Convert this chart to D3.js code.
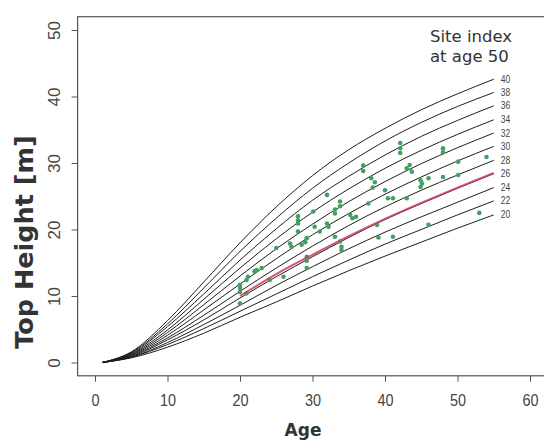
<!DOCTYPE html>
<html>
<head>
<meta charset="utf-8">
<script src="https://cdn.jsdelivr.net/npm/d3@7"></script>
<style>
  body { margin: 0; background: #fff; }
  svg { display: block; }
</style>
</head>
<body>
<script>
const width = 544;
const height = 442;

// site index curves at these ages
const curveAges = [1, 5, 10, 15, 20, 25, 30, 35, 40, 45, 50, 55];
const siteIndex = [20, 22, 24, 26, 28, 30, 32, 34, 36, 38, 40];
const curveHeights = [
    [0, 0.7, 2.3, 4.4, 6.8, 9.1, 11.5, 13.8, 16.0, 18.1, 20.2, 22.2],
    [0, 0.8, 2.7, 5.1, 7.7, 10.3, 12.9, 15.4, 17.8, 20.0, 22.2, 24.3],
    [0, 0.8, 3.0, 5.7, 8.6, 11.6, 14.4, 17.1, 19.6, 21.9, 24.1, 26.3],
    [0, 0.9, 3.4, 6.4, 9.7, 12.9, 15.9, 18.8, 21.5, 23.9, 26.2, 28.4],
    [0, 1.0, 3.7, 7.1, 10.7, 14.2, 17.5, 20.6, 23.4, 25.9, 28.2, 30.4],
    [0, 1.1, 4.1, 7.9, 11.8, 15.6, 19.2, 22.4, 25.3, 27.9, 30.3, 32.5],
    [0, 1.2, 4.5, 8.7, 13.0, 17.1, 20.8, 24.2, 27.2, 29.9, 32.3, 34.5],
    [0, 1.3, 4.9, 9.5, 14.2, 18.6, 22.6, 26.1, 29.2, 31.9, 34.3, 36.5],
    [0, 1.4, 5.4, 10.3, 15.4, 20.1, 24.4, 28.0, 31.2, 34.0, 36.4, 38.6],
    [0, 1.5, 5.8, 11.2, 16.7, 21.7, 26.2, 30.0, 33.3, 36.1, 38.5, 40.6],
    [0, 1.6, 6.3, 12.1, 18.0, 23.4, 28.1, 32.0, 35.2, 38.0, 40.4, 42.6]
];

// measured plots
const plotAge = [
    20.0, 20.0, 20.0, 20.0, 20.9, 20.9, 21.1, 22.0, 22.3, 23.0,
    24.1, 25.0, 26.0, 26.9, 27.1, 28.0, 28.0, 28.0, 28.0, 28.5,
    29.0, 29.2, 29.2, 29.2, 29.2, 30.1, 30.3, 31.0, 32.0, 32.0,
    32.2, 33.1, 33.1, 33.8, 33.8, 33.1, 33.8, 34.0, 34.0, 35.2,
    35.5, 36.0, 37.0, 37.0, 38.1, 38.6, 38.3, 37.7, 38.9, 39.1,
    41.1, 40.0, 40.4, 41.1, 42.1, 42.1, 42.1, 43.0, 43.0, 43.4,
    43.7, 44.9, 45.1, 44.9, 46.0, 46.0, 48.0, 48.0, 48.0, 50.1,
    50.1, 53.0, 54.0
];
const plotHeight = [
    11.7, 11.2, 10.6, 8.9, 12.4, 10.4, 12.9, 13.7, 13.9, 14.2,
    12.4, 17.2, 12.9, 17.9, 17.4, 22.0, 21.4, 20.9, 19.7, 17.7,
    18.1, 18.7, 15.9, 15.3, 14.2, 22.7, 20.4, 19.7, 25.2, 20.9,
    20.4, 23.0, 22.4, 24.2, 23.5, 18.9, 18.2, 17.4, 16.9, 22.2,
    21.7, 21.9, 29.6, 28.8, 27.7, 27.1, 26.3, 23.9, 20.7, 18.8,
    18.9, 25.9, 24.7, 24.7, 33.0, 32.2, 31.5, 24.7, 29.2, 29.7,
    28.7, 27.4, 26.9, 26.4, 27.7, 20.7, 32.2, 31.6, 27.9, 30.2,
    28.2, 22.5, 30.9
];

// fitted mean curve (red)
const fitAge = [20, 25, 30, 35, 40, 45, 50, 55];
const fitHeight = [10.0, 13.3, 16.2, 19.0, 21.6, 24.0, 26.3, 28.5];

const xTicks = [0, 10, 20, 30, 40, 50, 60];
const yTicks = [0, 10, 20, 30, 40, 50];

const x = d3.scaleLinear().domain([-2.4, 62.4]).range([77.6, 547.4]);
const y = d3.scaleLinear().domain([-2, 52]).range([375.8, 16.7]);

const svg = d3.select("body").append("svg")
    .attr("width", width)
    .attr("height", height);

const line = d3.line()
    .x(d => x(d[0]))
    .y(d => y(d[1]))
    .curve(d3.curveMonotoneX);

// site index curves
svg.append("g")
    .selectAll("path")
    .data(curveHeights)
    .enter()
    .append("path")
    .attr("d", h => line(curveAges.map((a, i) => [a, h[i]])))
    .attr("fill", "none")
    .attr("stroke", "#1e1e1e")
    .attr("stroke-width", 1);

// curve labels at the right end
svg.append("g")
    .selectAll("text")
    .data(curveHeights)
    .enter()
    .append("text")
    .attr("transform", h => "translate(" + (x(55) + 7) + "," + (y(h[h.length - 1]) + 3.5) + ") scale(0.85,1)")
    .attr("font-family", "Liberation Sans, Arial, sans-serif")
    .attr("font-size", 10)
    .attr("fill", "#444")
    .text((h, i) => siteIndex[i]);

// points
svg.append("g")
    .selectAll("circle")
    .data(plotAge)
    .enter()
    .append("circle")
    .attr("cx", d => x(d))
    .attr("cy", (d, i) => y(plotHeight[i]))
    .attr("r", 2.3)
    .attr("fill", "#42a062");

// red fit line
svg.append("path")
    .attr("d", line(fitAge.map((a, i) => [a, fitHeight[i]])))
    .attr("fill", "none")
    .attr("stroke", "#cc3a60")
    .attr("stroke-width", 2)
    .attr("opacity", 0.85);

// box
svg.append("rect")
    .attr("x", x(-2.4))
    .attr("y", y(52))
    .attr("width", x(62.4) - x(-2.4))
    .attr("height", y(-2) - y(52))
    .attr("fill", "none")
    .attr("stroke", "#555")
    .attr("stroke-width", 1.2);

// x axis
const gx = svg.append("g")
    .attr("transform", "translate(0," + y(-2) + ")")
    .call(d3.axisBottom(x).tickValues(xTicks).tickSize(6));
gx.select(".domain").remove();
gx.selectAll(".tick line").attr("stroke", "#555");
gx.selectAll(".tick text")
    .attr("y", null)
    .attr("dy", null)
    .attr("transform", "translate(0,30) scale(0.85,1)")
    .attr("font-family", "Liberation Sans, Arial, sans-serif")
    .attr("font-size", 17)
    .attr("fill", "#444");

// y axis
const gy = svg.append("g")
    .attr("transform", "translate(" + x(-2.4) + ",0)")
    .call(d3.axisLeft(y).tickValues(yTicks).tickSize(6));
gy.select(".domain").remove();
gy.selectAll(".tick line").attr("stroke", "#555");
gy.selectAll(".tick text")
    .attr("x", null)
    .attr("dy", null)
    .attr("text-anchor", "middle")
    .attr("transform", "translate(-17.5,0) rotate(-90)")
    .attr("font-family", "Liberation Sans, Arial, sans-serif")
    .attr("font-size", 17)
    .attr("fill", "#444");

// axis titles
svg.append("text")
    .attr("x", 303)
    .attr("y", 436)
    .attr("text-anchor", "middle")
    .attr("font-family", "DejaVu Sans, sans-serif")
    .attr("font-weight", "bold")
    .attr("font-size", 17)
    .attr("fill", "#333")
    .text("Age");

svg.append("text")
    .attr("transform", "translate(33,242) rotate(-90)")
    .attr("text-anchor", "middle")
    .attr("font-family", "DejaVu Sans, sans-serif")
    .attr("font-weight", "bold")
    .attr("font-size", 25.5)
    .attr("fill", "#333")
    .text("Top Height [m]");

// legend title
const legend = svg.append("text")
    .attr("font-family", "DejaVu Sans, sans-serif")
    .attr("font-size", 16.5)
    .attr("fill", "#333");
legend.append("tspan").attr("x", 430).attr("y", 42).text("Site index");
legend.append("tspan").attr("x", 430).attr("y", 62).text("at age 50");
</script>
</body>
</html>
